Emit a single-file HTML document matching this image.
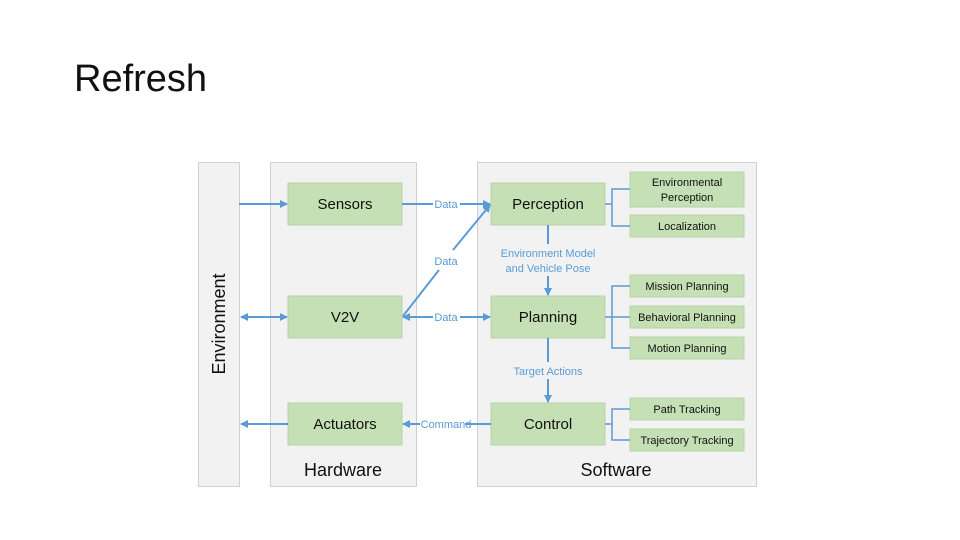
<!DOCTYPE html>
<html><head><meta charset="utf-8"><style>
html,body{margin:0;padding:0;background:#fff;}
body{width:960px;height:540px;overflow:hidden;position:relative;font-family:"Liberation Sans",sans-serif;}
.t{position:absolute;left:74px;top:58px;font-size:38px;color:#111;}
</style></head><body>
<div class="t">Refresh</div>
<svg width="960" height="540" style="position:absolute;left:0;top:0" font-family="Liberation Sans, sans-serif">
<defs>
<marker id="a" markerWidth="8" markerHeight="8" refX="7" refY="4" orient="auto" markerUnits="userSpaceOnUse"><path d="M0,0 L8,4 L0,8 z" fill="#5b9bd5"/></marker>
<marker id="s" markerWidth="8" markerHeight="8" refX="1" refY="4" orient="auto" markerUnits="userSpaceOnUse"><path d="M8,0 L0,4 L8,8 z" fill="#5b9bd5"/></marker>
</defs>
<g fill="#f2f2f2" stroke="#d0d0d0">
<rect x="198.5" y="162.5" width="41" height="324"/>
<rect x="270.5" y="162.5" width="146" height="324"/>
<rect x="477.5" y="162.5" width="279" height="324"/>
</g>
<g fill="#c5e0b4" stroke="#b8d2a8">
<rect x="288" y="183" width="114" height="42"/>
<rect x="288" y="296" width="114" height="42"/>
<rect x="288" y="403" width="114" height="42"/>
<rect x="491" y="183" width="114" height="42"/>
<rect x="491" y="296" width="114" height="42"/>
<rect x="491" y="403" width="114" height="42"/>
<rect x="630" y="172" width="114" height="35"/>
<rect x="630" y="215" width="114" height="22"/>
<rect x="630" y="275" width="114" height="22"/>
<rect x="630" y="306" width="114" height="22"/>
<rect x="630" y="337" width="114" height="22"/>
<rect x="630" y="398" width="114" height="22"/>
<rect x="630" y="429" width="114" height="22"/>
</g>
<g stroke="#5b9bd5" stroke-width="2" fill="none">
<line x1="239" y1="204" x2="287" y2="204" marker-end="url(#a)"/>
<line x1="241" y1="317" x2="287" y2="317" marker-start="url(#s)" marker-end="url(#a)"/>
<line x1="288" y1="424" x2="241" y2="424" marker-end="url(#a)"/>
<line x1="402" y1="204" x2="433" y2="204"/>
<line x1="460" y1="204" x2="490" y2="204" marker-end="url(#a)"/>
<line x1="403" y1="317" x2="433" y2="317" marker-start="url(#s)"/>
<line x1="460" y1="317" x2="490" y2="317" marker-end="url(#a)"/>
<line x1="491" y1="424" x2="465" y2="424"/>
<line x1="420" y1="424" x2="403" y2="424" marker-end="url(#a)"/>
<line x1="403" y1="316" x2="439" y2="270"/>
<line x1="453" y1="250" x2="490" y2="205" marker-end="url(#a)"/>
<line x1="548" y1="225" x2="548" y2="244"/>
<line x1="548" y1="276" x2="548" y2="295" marker-end="url(#a)"/>
<line x1="548" y1="338" x2="548" y2="362"/>
<line x1="548" y1="379" x2="548" y2="402" marker-end="url(#a)"/>
<g stroke-width="1.5">
<path d="M605,204 H612 M630,189 H612 V226 H630"/>
<path d="M605,317 H612 M630,286 H612 V348 H630 M612,317 H630"/>
<path d="M605,424 H612 M630,409 H612 V440 H630"/>
</g>
</g>
<g fill="#5b9bd5" font-size="11" text-anchor="middle">
<text x="446" y="208">Data</text>
<text x="446" y="265">Data</text>
<text x="446" y="321">Data</text>
<text x="446" y="428">Command</text>
<text x="548" y="257">Environment Model</text>
<text x="548" y="272">and Vehicle Pose</text>
<text x="548" y="375">Target Actions</text>
</g>
<g fill="#111" font-size="15" text-anchor="middle">
<text x="345" y="209">Sensors</text>
<text x="345" y="322">V2V</text>
<text x="345" y="429">Actuators</text>
<text x="548" y="209">Perception</text>
<text x="548" y="322">Planning</text>
<text x="548" y="429">Control</text>
</g>
<g fill="#111" font-size="18" text-anchor="middle">
<text x="343" y="476">Hardware</text>
<text x="616" y="476">Software</text>
<text transform="translate(225,324) rotate(-90)">Environment</text>
</g>
<g fill="#111" font-size="11" text-anchor="middle">
<text x="687" y="186">Environmental</text>
<text x="687" y="201">Perception</text>
<text x="687" y="230">Localization</text>
<text x="687" y="290">Mission Planning</text>
<text x="687" y="321">Behavioral Planning</text>
<text x="687" y="352">Motion Planning</text>
<text x="687" y="413">Path Tracking</text>
<text x="687" y="444">Trajectory Tracking</text>
</g>
</svg>
</body></html>
